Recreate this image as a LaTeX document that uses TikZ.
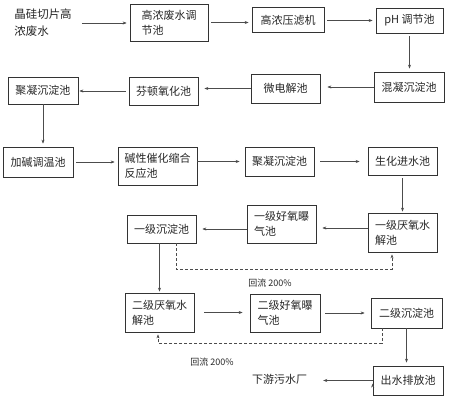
\documentclass[tikz,border=0pt]{standalone}
\usepackage{fontspec}
\newfontfamily\cjk{Noto Sans CJK SC}
\usetikzlibrary{arrows.meta,calc}

\begin{document}
\begin{tikzpicture}[x=1pt,y=-1pt,
    every node/.style={font=\cjk\fontsize{11}{15}\selectfont, inner sep=0pt, align=left, text=black!85},
    box/.style={draw=black!80, line width=0.7pt},
    flow/.style={-{Stealth[length=4pt,width=3pt]}, draw=black!70, line width=0.6pt, shorten <=3pt, shorten >=3pt},
    back/.style={-{Stealth[length=4pt,width=3pt]}, draw=black!70, line width=0.6pt, dash pattern=on 3pt off 2pt, shorten >=2pt}]
    \useasboundingbox (0,0) rectangle (450,401);

    \node[font=\cjk\fontsize{11.5}{17}\selectfont] (1) at (43,23) {晶硅切片高\\浓废水};
    \node[box, minimum width=78, minimum height=37] (2) at (169,22.5) {高浓废水调\\节池};
    \node[box, minimum width=72, minimum height=25] (3) at (288,20) {高浓压滤机};
    \node[box, minimum width=67, minimum height=25] (4) at (409.5,20.5) {pH 调节池};
    \node[box, minimum width=70, minimum height=30] (5) at (409,87) {混凝沉淀池};
    \node[box, minimum width=69, minimum height=29] (6) at (285.5,88.5) {微电解池};
    \node[box, minimum width=69, minimum height=28] (7) at (163.5,91) {芬顿氧化池};
    \node[box, minimum width=70, minimum height=27] (8) at (43,90.5) {聚凝沉淀池};
    \node[box, minimum width=70, minimum height=30] (9) at (38,162) {加碱调温池};
    \node[box, minimum width=79, minimum height=38] (10) at (157.5,166) {碱性催化缩合\\反应池};
    \node[box, minimum width=69, minimum height=29] (11) at (279.5,161.5) {聚凝沉淀池};
    \node[box, minimum width=69, minimum height=28] (12) at (402.5,161) {生化进水池};
    \node[box, minimum width=69, minimum height=39] (13) at (402.5,232.5) {一级厌氧水\\解池};
    \node[box, minimum width=69, minimum height=38] (14) at (281.5,224) {一级好氧曝\\气池};
    \node[box, minimum width=69, minimum height=28] (15) at (161.5,229) {一级沉淀池};
    \node[box, minimum width=69, minimum height=39] (16) at (159.5,312.5) {二级厌氧水\\解池};
    \node[box, minimum width=70, minimum height=38] (17) at (285,313) {二级好氧曝\\气池};
    \node[box, minimum width=71, minimum height=30] (18) at (406.5,313) {二级沉淀池};
    \node[box, minimum width=70, minimum height=29] (19) at (408,380.5) {出水排放池};
    \node (20) at (279.5,379) {下游污水厂};
    \node[font=\cjk\fontsize{9}{11}\selectfont] (21) at (270,283) {回流 200\%};
    \node[font=\cjk\fontsize{9}{11}\selectfont] (22) at (212,362) {回流 200\%};

    \path[flow]
    (1.east) edge[shorten <=10pt] (1.east -| 2.west)
    (2.east) edge (2.east -| 3.west)
    (3.east |- 4.west) edge (4.west)
    (4.south) edge (4.south |- 5.north)
    (5.west) edge[shorten <=0pt, shorten >=7pt] (5.west -| 6.east)
    (6.west) edge[shorten <=0pt, shorten >=6pt] (6.west -| 7.east)
    (7.west) edge[shorten >=1pt] (7.west -| 8.east)
    (8.south) edge[shorten <=0pt] (8.south |- 9.north)
    (9.east) edge (9.east -| 10.west)
    (10.east |- 11.west) edge[shorten <=0pt, shorten >=5pt] (11.west)
    (11.east) edge[shorten <=6pt, shorten >=8pt] (11.east -| 12.west)
    (12.south) edge[shorten >=1pt] (12.south |- 13.north)
    ($(13.west)+(0,-4.5)$) edge[shorten <=0pt, shorten >=6pt] ($(13.west -| 14.east)+(0,-4.5)$)
    (14.west |- 15.east) edge[shorten <=0pt, shorten >=6pt] (15.east)
    (16.north |- 15.south) edge[shorten <=0pt, shorten >=1pt] (16.north)
    (16.east) edge[shorten <=10pt, shorten >=7pt] (16.east -| 17.west)
    (17.east) edge[shorten <=5pt, shorten >=6pt] (17.east -| 18.west)
    (18.south) edge[shorten <=0pt] (18.south |- 19.north)
    (19.west) edge[shorten <=0pt, shorten >=16pt] (19.west -| 20.east);

    \draw[back] ($(15.south)+(14.5,0)$) -- ++(0,26) -| ($(13.south)+(-10.5,0)$);
    \draw[back] ($(18.south)+(-24.5,0)$) -- ++(0,15) -| ($(16.south)+(-1.5,0)$);
\end{tikzpicture}
\end{document}
